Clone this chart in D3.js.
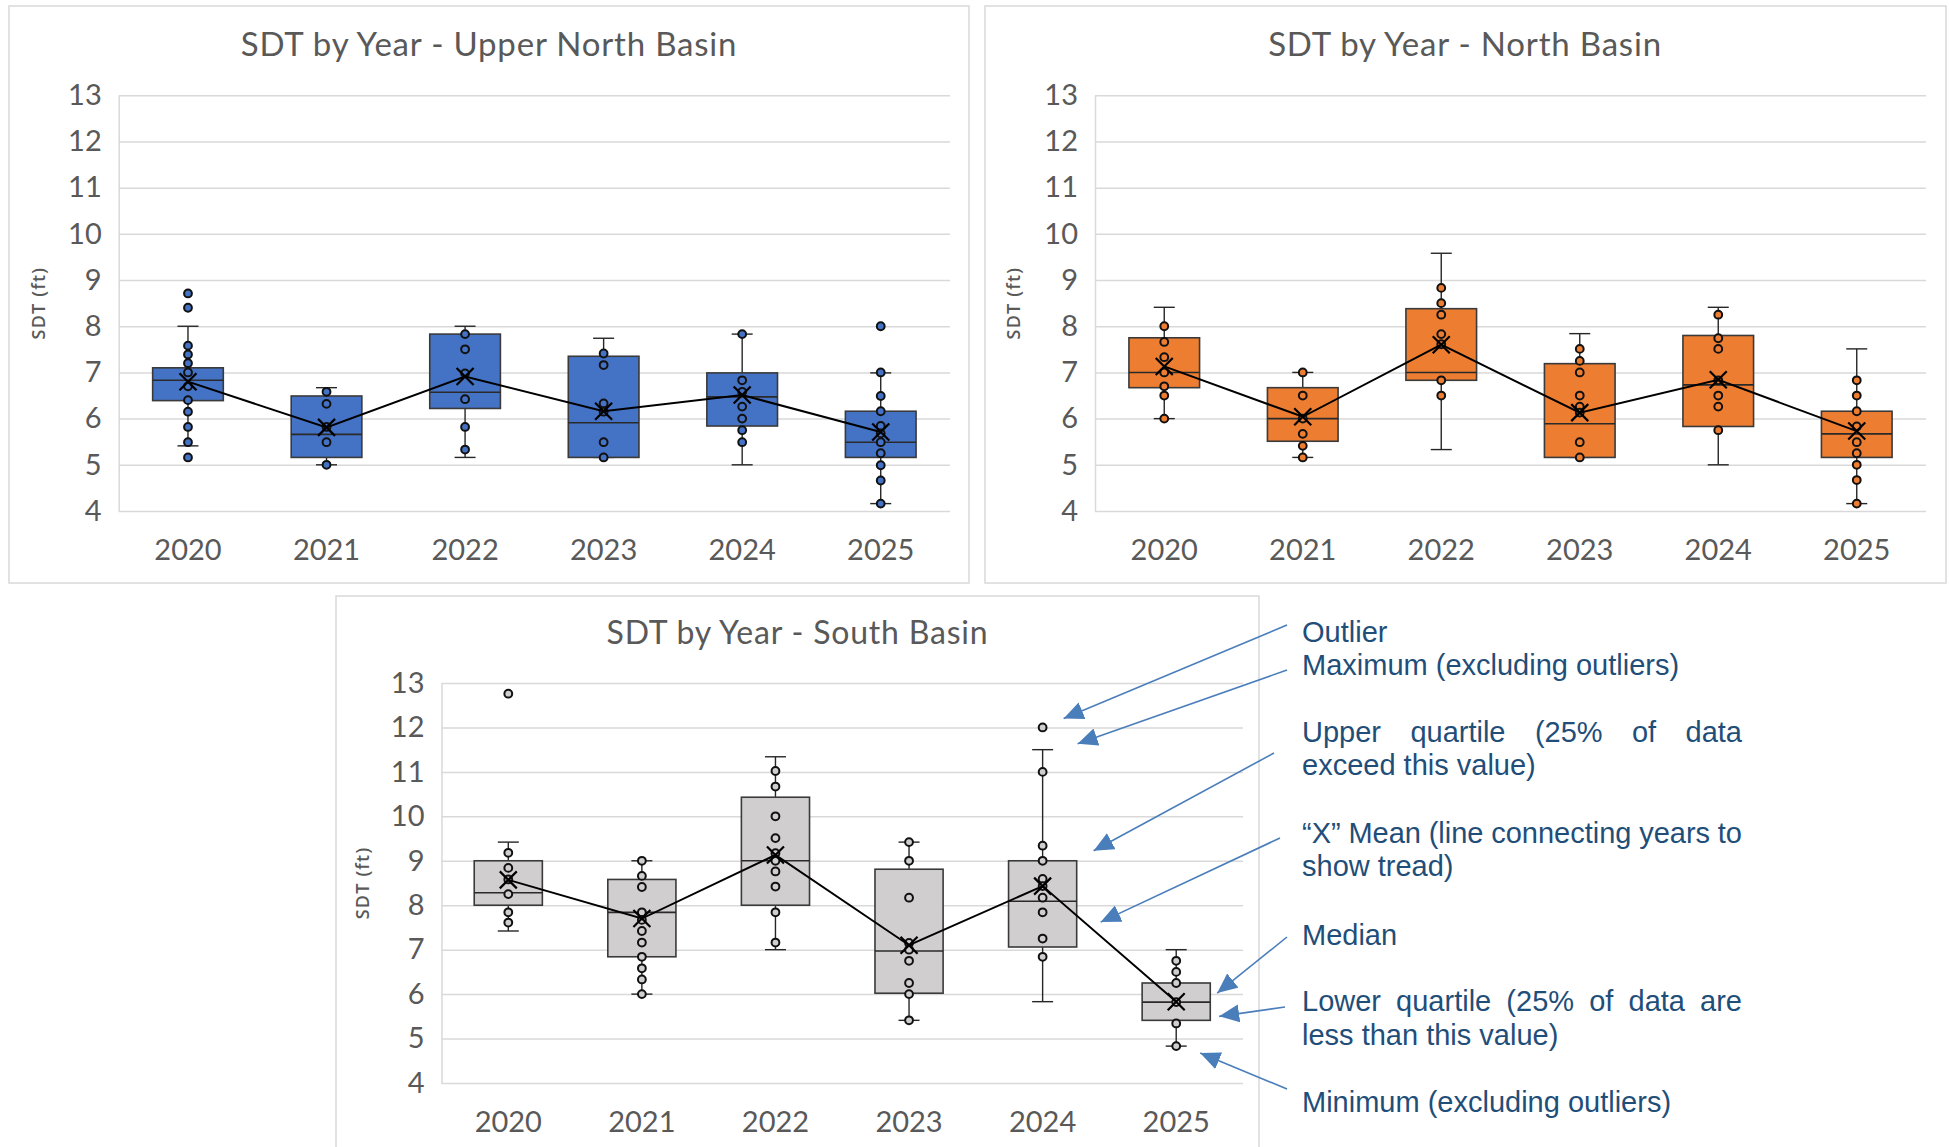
<!DOCTYPE html>
<html>
<head>
<meta charset="utf-8">
<script src="https://cdn.jsdelivr.net/npm/d3@7"></script>
<style>
  body { margin: 0; background: #fff; }
  svg { display: block; }
</style>
</head>
<body>
<svg id="chart" width="1949" height="1147"></svg>
<script>
// ---- data -------------------------------------------------------------
const years = ["2020", "2021", "2022", "2023", "2024", "2025"];
const yTicks = [4, 5, 6, 7, 8, 9, 10, 11, 12, 13];

// Upper North Basin (ft)
const unbLow    = [5.41, 5.00, 5.16, 5.16, 5.00, 4.16];
const unbQ1     = [6.39, 5.16, 6.22, 5.16, 5.84, 5.16];
const unbMedian = [6.83, 5.66, 6.57, 5.91, 6.47, 5.49];
const unbQ3     = [7.10, 6.49, 7.83, 7.35, 6.99, 6.16];
const unbHigh   = [8.00, 6.67, 8.00, 7.74, 7.83, 6.99];
const unbMean   = [6.80, 5.81, 6.91, 6.16, 6.51, 5.71];
const unbPoints = [
  [7.58, 7.39, 7.20, 7.00, 6.70, 6.40, 6.15, 5.82, 5.49],
  [6.58, 6.32, 5.82, 5.49, 5.00],
  [7.83, 7.50, 6.98, 6.42, 5.82, 5.33],
  [7.41, 7.16, 6.33, 6.15, 5.49, 5.16],
  [7.83, 6.83, 6.58, 6.26, 6.00, 5.75, 5.49],
  [7.00, 6.49, 6.16, 5.84, 5.68, 5.49, 5.25, 4.99, 4.66, 4.16]
];
const unbOutliers = [[8.71, 8.40, 5.16], [], [], [], [], [8.00]];

// North Basin (ft)
const nbLow    = [6.00, 5.16, 5.33, 5.16, 5.00, 4.16];
const nbQ1     = [6.67, 5.51, 6.83, 5.16, 5.83, 5.16];
const nbMedian = [7.00, 6.00, 7.00, 5.89, 6.73, 5.67];
const nbQ3     = [7.75, 6.67, 8.38, 7.19, 7.80, 6.16];
const nbHigh   = [8.41, 7.00, 9.58, 7.84, 8.41, 7.51];
const nbMean   = [7.13, 6.04, 7.60, 6.13, 6.84, 5.73];
const nbPoints = [
  [8.00, 7.66, 7.33, 7.00, 6.70, 6.50, 6.00],
  [7.00, 6.50, 6.00, 5.67, 5.41, 5.16],
  [8.83, 8.50, 8.25, 7.83, 7.61, 6.83, 6.50],
  [7.51, 7.25, 7.00, 6.50, 6.26, 6.13, 5.49, 5.16],
  [8.25, 7.74, 7.51, 6.83, 6.50, 6.26, 5.75],
  [6.83, 6.50, 6.16, 5.83, 5.49, 5.25, 5.00, 4.67, 4.16]
];
const nbOutliers = [[], [], [], [], [], []];

// South Basin (ft)
const sbLow    = [7.42, 6.00, 7.00, 5.41, 5.83, 4.83];
const sbQ1     = [8.00, 6.84, 8.00, 6.02, 7.06, 5.41];
const sbMedian = [8.28, 7.84, 9.00, 6.97, 8.09, 5.82];
const sbQ3     = [9.00, 8.58, 10.43, 8.81, 9.00, 6.25];
const sbHigh   = [9.42, 9.00, 11.34, 9.42, 11.50, 7.00];
const sbMean   = [8.57, 7.70, 9.13, 7.10, 8.43, 5.83];
const sbPoints = [
  [9.18, 8.84, 8.58, 8.25, 7.84, 7.61],
  [9.00, 8.66, 8.41, 7.84, 7.67, 7.42, 7.16, 6.84, 6.58, 6.33, 6.00],
  [11.02, 10.67, 10.00, 9.51, 9.17, 9.00, 8.76, 8.42, 7.84, 7.16],
  [9.42, 9.00, 8.17, 7.15, 7.00, 6.75, 6.25, 6.00, 5.41],
  [11.00, 9.34, 9.00, 8.59, 8.43, 8.17, 7.84, 7.25, 6.84],
  [6.75, 6.50, 6.25, 5.82, 5.34, 4.83]
];
const sbOutliers = [[12.76], [], [], [], [12.00], []];

// ---- drawing ----------------------------------------------------------
const svg = d3.select("#chart");
svg.append("rect").attr("width", 1949).attr("height", 1147).attr("fill", "#fff");

const GRID = "#d9d9d9";
const TEXT = "#595959";
const FONT = "Lato, 'Open Sans', sans-serif";

function drawPanel(p) {
  const g = svg.append("g");

  g.append("rect")
    .attr("x", p.frame[0]).attr("y", p.frame[1])
    .attr("width", p.frame[2]).attr("height", p.frame[3])
    .attr("fill", "#fff").attr("stroke", GRID).attr("stroke-width", 1.5);

  g.append("text")
    .attr("x", p.titleX).attr("y", p.titleY)
    .attr("text-anchor", "middle")
    .attr("fill", TEXT)
    .style("font-family", FONT).style("font-size", p.titleSize + "px")
    .style("letter-spacing", "0.8px")
    .text(p.title);

  const x = d3.scaleBand().domain(years).range([p.x0, p.x1]);
  const y = d3.scaleLinear().domain([4, 13]).range([p.yBot, p.yTop]);

  // value axis with gridlines
  const ya = g.append("g")
    .attr("transform", `translate(${p.x0},0)`)
    .call(d3.axisLeft(y).tickValues(yTicks).tickSizeInner(-(p.x1 - p.x0)).tickSizeOuter(0).tickPadding(17));
  ya.select(".domain").attr("stroke", GRID).attr("stroke-width", 1.5);
  ya.selectAll(".tick line").attr("stroke", GRID).attr("stroke-width", 1.5);
  ya.selectAll(".tick text").attr("fill", TEXT)
    .style("font-family", FONT).style("font-size", "29px");

  // category axis
  const xa = g.append("g")
    .attr("transform", `translate(0,${p.yBot})`)
    .call(d3.axisBottom(x).tickSize(0).tickPadding(28));
  xa.select(".domain").remove();
  xa.selectAll(".tick text").attr("fill", TEXT)
    .style("font-family", FONT).style("font-size", "29px");

  // axis title
  g.append("text")
    .attr("transform", `translate(${p.yLabelX},${(p.yTop + p.yBot) / 2}) rotate(-90)`)
    .attr("text-anchor", "middle")
    .attr("dy", "0.35em")
    .attr("fill", TEXT)
    .style("font-family", "'Open Sans', sans-serif").style("font-size", "18px")
    .style("font-weight", "600").style("letter-spacing", "1.2px")
    .text("SDT (ft)");

  const bw = x.bandwidth() * 0.51;
  const cx = d => x(d) + x.bandwidth() / 2;
  const cap = 21;
  const STROKE = "#262626";

  const rows = years.map((yr, i) => ({
    yr, low: p.low[i], q1: p.q1[i], med: p.median[i], q3: p.q3[i], high: p.high[i],
    mean: p.mean[i], pts: p.points[i].concat(p.outliers[i])
  }));

  const box = g.append("g").selectAll("g").data(rows).join("g");

  // whiskers
  box.append("line")
    .attr("x1", d => cx(d.yr)).attr("x2", d => cx(d.yr))
    .attr("y1", d => y(d.high)).attr("y2", d => y(d.q3))
    .attr("stroke", STROKE).attr("stroke-width", 1.4);
  box.append("line")
    .attr("x1", d => cx(d.yr)).attr("x2", d => cx(d.yr))
    .attr("y1", d => y(d.q1)).attr("y2", d => y(d.low))
    .attr("stroke", STROKE).attr("stroke-width", 1.4);
  box.append("line")
    .attr("x1", d => cx(d.yr) - cap / 2).attr("x2", d => cx(d.yr) + cap / 2)
    .attr("y1", d => y(d.high)).attr("y2", d => y(d.high))
    .attr("stroke", STROKE).attr("stroke-width", 1.4);
  box.append("line")
    .attr("x1", d => cx(d.yr) - cap / 2).attr("x2", d => cx(d.yr) + cap / 2)
    .attr("y1", d => y(d.low)).attr("y2", d => y(d.low))
    .attr("stroke", STROKE).attr("stroke-width", 1.4);

  // box and median
  box.append("rect")
    .attr("x", d => cx(d.yr) - bw / 2).attr("width", bw)
    .attr("y", d => y(d.q3)).attr("height", d => y(d.q1) - y(d.q3))
    .attr("fill", p.fill).attr("stroke", "#3a3a3a").attr("stroke-width", 1.6);
  box.append("line")
    .attr("x1", d => cx(d.yr) - bw / 2).attr("x2", d => cx(d.yr) + bw / 2)
    .attr("y1", d => y(d.med)).attr("y2", d => y(d.med))
    .attr("stroke", "#2a2a2a").attr("stroke-width", 1.6);

  // individual readings
  box.selectAll("circle").data(d => d.pts.map(v => ({ yr: d.yr, v }))).join("circle")
    .attr("cx", d => cx(d.yr)).attr("cy", d => y(d.v)).attr("r", 3.9)
    .attr("fill", p.fill).attr("stroke", "#111").attr("stroke-width", 2);

  // mean trend line
  g.append("path")
    .datum(rows)
    .attr("fill", "none").attr("stroke", "#000").attr("stroke-width", 2)
    .attr("d", d3.line().x(d => cx(d.yr)).y(d => y(d.mean)));

  // mean markers
  const m = 8.5;
  g.append("g").selectAll("path").data(rows).join("path")
    .attr("d", d => {
      const px = cx(d.yr), py = y(d.mean);
      return `M${px - m},${py - m}L${px + m},${py + m}M${px - m},${py + m}L${px + m},${py - m}`;
    })
    .attr("stroke", "#000").attr("stroke-width", 2.2).attr("fill", "none");

  return { x, y, cx };
}

drawPanel({
  title: "SDT by Year - Upper North Basin", titleSize: 33,
  frame: [9, 6, 960, 577], titleX: 489, titleY: 56,
  x0: 118.7, x1: 950, yTop: 95.3, yBot: 511, yLabelX: 39,
  fill: "#4472C4",
  low: unbLow, q1: unbQ1, median: unbMedian, q3: unbQ3, high: unbHigh,
  mean: unbMean, points: unbPoints, outliers: unbOutliers
});

drawPanel({
  title: "SDT by Year - North Basin", titleSize: 33,
  frame: [985, 6, 961, 577], titleX: 1465, titleY: 56,
  x0: 1095, x1: 1926, yTop: 95.3, yBot: 511, yLabelX: 1014,
  fill: "#ED7D31",
  low: nbLow, q1: nbQ1, median: nbMedian, q3: nbQ3, high: nbHigh,
  mean: nbMean, points: nbPoints, outliers: nbOutliers
});

const south = drawPanel({
  title: "SDT by Year - South Basin", titleSize: 32,
  frame: [336, 596, 923, 570], titleX: 797.5, titleY: 644,
  x0: 441.5, x1: 1243, yTop: 683, yBot: 1083, yLabelX: 363,
  fill: "#D0CECE",
  low: sbLow, q1: sbQ1, median: sbMedian, q3: sbQ3, high: sbHigh,
  mean: sbMean, points: sbPoints, outliers: sbOutliers
});

// ---- legend notes with arrows into the South Basin chart ---------------
const NOTE = "#1F4E79";
const ARROW = "#4A7EBB";
const noteX = 1302, noteW = 440;

svg.append("defs").append("marker")
  .attr("id", "head")
  .attr("markerUnits", "userSpaceOnUse")
  .attr("markerWidth", 24).attr("markerHeight", 20)
  .attr("refX", 20).attr("refY", 9)
  .attr("orient", "auto")
  .append("path").attr("d", "M0,0L20,9L0,18Z").attr("fill", ARROW);

const notes = [
  { lines: ["Outlier"], base: [641.5], tail: [1287, 625], yr: "2024", v: sbOutliers[4][0], dx: 21, dy: -9 },
  { lines: ["Maximum (excluding outliers)"], base: [675], tail: [1287, 670], yr: "2024", v: sbHigh[4], dx: 35, dy: -6 },
  { lines: ["Upper quartile (25% of data", "exceed this value)"], base: [742, 775], tail: [1274, 753], yr: "2024", v: sbQ3[4], dx: 51, dy: -10 },
  { lines: ["\u201CX\u201D Mean (line connecting years to", "show tread)"], base: [843, 876], tail: [1280, 838], yr: "2024", v: sbMean[4], dx: 58, dy: 36 },
  { lines: ["Median"], base: [944.5], tail: [1287, 937], yr: "2025", v: sbMedian[5], dx: 41, dy: -9 },
  { lines: ["Lower quartile (25% of data are", "less than this value)"], base: [1011, 1045], tail: [1285, 1007], yr: "2025", v: sbQ1[5], dx: 43, dy: -4 },
  { lines: ["Minimum (excluding outliers)"], base: [1112], tail: [1287, 1089], yr: "2025", v: sbLow[5], dx: 24, dy: 7 }
];

const ng = svg.append("g");
notes.forEach(n => {
  ng.append("line")
    .attr("x1", n.tail[0]).attr("y1", n.tail[1])
    .attr("x2", south.cx(n.yr) + n.dx).attr("y2", south.y(n.v) + n.dy)
    .attr("stroke", ARROW).attr("stroke-width", 1.6)
    .attr("marker-end", "url(#head)");

  n.lines.forEach((line, li) => {
    const t = ng.append("text")
      .attr("y", n.base[li])
      .attr("fill", NOTE)
      .style("font-family", "'Liberation Sans', Arial, sans-serif")
      .style("font-size", "29px");
    const justify = n.lines.length > 1 && li < n.lines.length - 1;
    if (!justify) {
      t.attr("x", noteX).text(line);
      return;
    }
    const words = line.split(" ");
    const spans = words.map(w => t.append("tspan").text(w));
    const widths = spans.map(s => s.node().getComputedTextLength());
    const gap = (noteW - d3.sum(widths)) / (words.length - 1);
    let cur = noteX;
    spans.forEach((s, k) => { s.attr("x", cur); cur += widths[k] + gap; });
  });
});
</script>
</body>
</html>
